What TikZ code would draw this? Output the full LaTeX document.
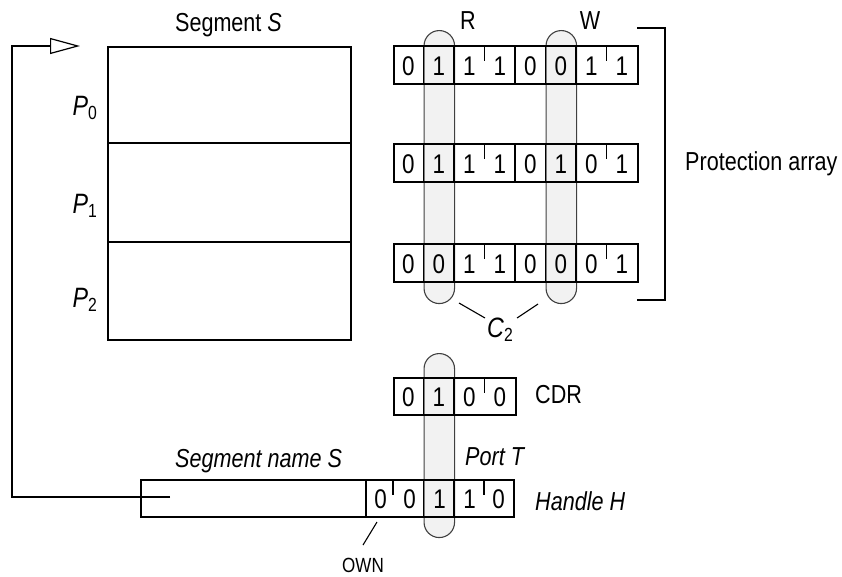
\documentclass[tikz,border=0pt]{standalone}
\usepackage{fontspec}
\setmainfont{Liberation Sans}[FakeStretch=0.83]
\usetikzlibrary{arrows.meta}
\newcommand{\bitrow}[3]{%
  \node[box, minimum width=244pt, minimum height=38pt, anchor=north west] (#1) at (393,#2) {};
  \foreach \k in {1,2,4,5,6} \draw[div] ({393+30.5*\k},#2) -- ++(0,38);
  \foreach \k in {3,7} \draw[div] ({393+30.5*\k},#2) -- ++(0,16);
  \foreach \b [count=\i] in {#3} \node[bit] (#1b\i) at ({393+30.5*(\i-0.5)},{#2+30}) {\b};
}
\newcommand{\subl}[2]{{\itshape #1}\raisebox{-4pt}{\fontsize{19}{19}\selectfont #2}}
\begin{document}
\begin{tikzpicture}[x=1pt,y=-1pt,
  box/.style={draw=black, line width=1.8pt, inner sep=0pt},
  capsule/.style={fill=black!5, draw=black!75, line width=1.1pt, inner sep=0pt, rounded corners=15.25pt, minimum width=30.5pt, anchor=north west},
  div/.style={line width=1.6pt},
  conn/.style={line width=1.5pt},
  thinln/.style={line width=1.1pt},
  lbl/.style={font=\fontsize{26}{30}\selectfont, inner sep=0pt},
  bit/.style={font=\fontsize{27}{30}\selectfont, inner sep=0pt, anchor=base},
]
\useasboundingbox (0,0) rectangle (842,576);

% capsules
\node[capsule, minimum height=273pt] (capR) at (423.5,30) {};
\node[capsule, minimum height=273pt] (capW) at (545.5,30) {};
\node[capsule, minimum height=184pt] (capT) at (423.5,353) {};

% segment box
\node[box, minimum width=243pt, minimum height=293pt, anchor=north west] (seg) at (107,46) {};
\draw[box] (107,143) -- (350,143);
\draw[box] (107,242) -- (350,242);
\node[lbl, anchor=base] (segS) at (228.5,31) {Segment {\itshape S}};
\node[lbl, anchor=base east, font=\fontsize{28}{30}\selectfont] (p0) at (97,115) {\subl{P}{0}};
\node[lbl, anchor=base east, font=\fontsize{28}{30}\selectfont] (p1) at (97,213) {\subl{P}{1}};
\node[lbl, anchor=base east, font=\fontsize{28}{30}\selectfont] (p2) at (97,307) {\subl{P}{2}};

% protection array
\bitrow{rowa}{45}{0,1,1,1,0,0,1,1}
\bitrow{rowb}{143}{0,1,1,1,0,1,0,1}
\bitrow{rowc}{243}{0,0,1,1,0,0,0,1}
\node[lbl, anchor=base] (R) at (468,29) {R};
\node[lbl, anchor=base] (W) at (590,29) {W};
\draw[box] (637,28) -- (665,28) -- (665,300) -- (637,300);
\node[lbl, anchor=base west] (prot) at (685,170) {Protection array};

% C2
\node[lbl, anchor=base, font=\fontsize{28}{30}\selectfont] (c2) at (500,337) {\subl{C}{2}};
\coordinate (c2a) at (459,303);
\coordinate (c2b) at (485,318);
\coordinate (c2c) at (517,318);
\coordinate (c2d) at (538,304);
\draw[thinln] (c2a) -- (c2b);
\draw[thinln] (c2c) -- (c2d);

% CDR
\node[box, minimum width=122pt, minimum height=37pt, anchor=north west] (cdr) at (393,377) {};
\foreach \x in {423.5,454} \draw[div] (\x,377) -- ++(0,37);
\draw[div] (484.5,377) -- ++(0,16);
\foreach \b/\x [count=\i] in {0/408.25,1/438.75,0/469.25,0/499.75} \node[bit] (cdrb\i) at (\x,406) {\b};
\node[lbl, anchor=base west] (cdrl) at (535,403) {CDR};

% handle
\node[box, minimum width=373pt, minimum height=37pt, anchor=north west] (handle) at (140,479) {};
\foreach \x in {366,423.5,454} \draw[div] (\x,479) -- ++(0,37);
\foreach \x in {393,484} \draw[div] (\x,479) -- ++(0,16);
\foreach \b/\x [count=\i] in {0/380.5,0/409.5,1/439.5,1/469.5,0/498.5} \node[bit] (hb\i) at (\x,508) {\b};
\node[lbl, anchor=base west] (segname) at (175,467) {\itshape Segment name S};
\node[lbl, anchor=base west] (portT) at (465,465) {\itshape Port T};
\node[lbl, anchor=base west] (handleH) at (535,510) {\itshape Handle H};

% OWN
\node[lbl, anchor=base west, font=\fontsize{20.5}{22}\selectfont] (own) at (342,572) {OWN};
\coordinate (owna) at (377,522);
\coordinate (ownb) at (363,545);
\draw[thinln] (owna) -- (ownb);

% connector
\coordinate (hstart) at (170,497);
\coordinate (atip) at (80,46);
\draw[conn, -{Triangle[open, length=30pt, width=16pt, line width=1.2pt]}] (hstart) -- (12,497) |- (atip);
\end{tikzpicture}
\end{document}
